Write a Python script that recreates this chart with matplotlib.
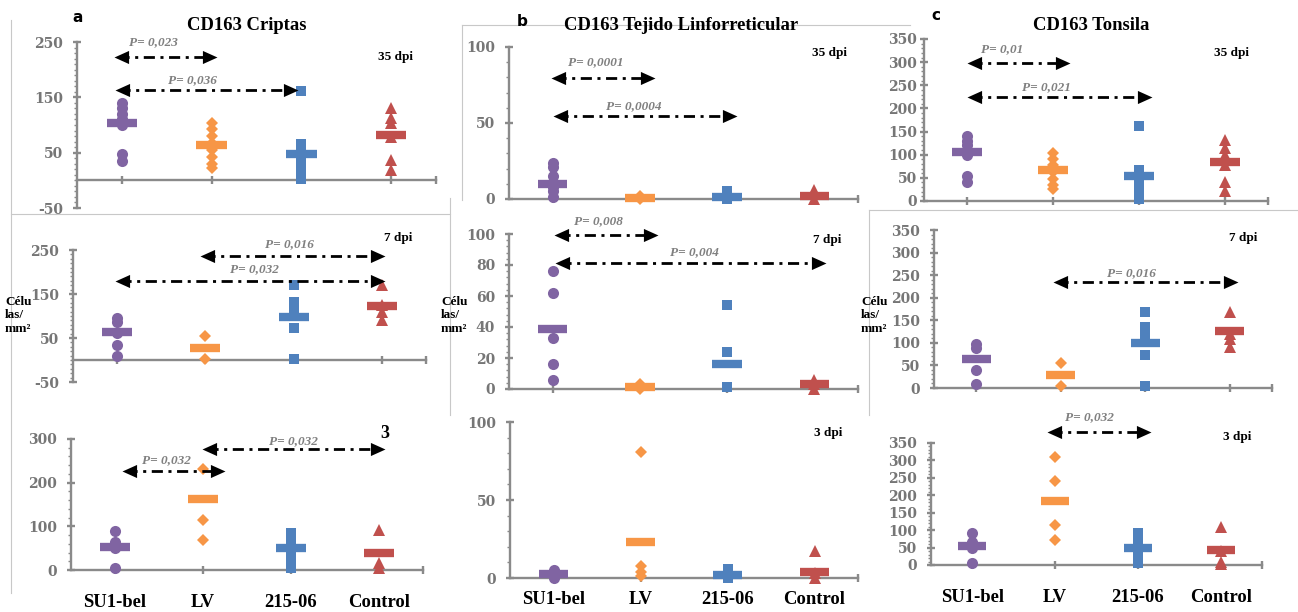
import matplotlib
matplotlib.use('Agg')
import matplotlib.pyplot as plt
from matplotlib.lines import Line2D
from matplotlib.ticker import MultipleLocator, FixedLocator

plt.rcParams['lines.scale_dashes'] = False

W, H = 1298, 612

# ---------------- data ----------------
groups = ['SU1-bel', 'LV', '215-06', 'Control']
group_colors = ['#8064A2', '#F79646', '#4F81BD', '#C0504D']
group_markers = ['o', 'D', 's', '^']
group_msize = [8, 6.5, 7, 8]

# a) CD163 Criptas
criptas_35 = [[140, 130, 120, 110, 100, 48, 35],
              [103, 92, 80, 68, 55, 42, 30, 22],
              [162, 65, 52, 40, 28, 15, 3],
              [130, 112, 103, 78, 37, 18]]
criptas_35_mean = [104, 64, 48, 82]
criptas_7 = [[96, 86, 62, 35, 8],
             [55, 2],
             [170, 132, 118, 72, 3],
             [170, 125, 108, 92]]
criptas_7_mean = [63, 27, 98, 123]
criptas_3 = [[90, 65, 50, 5],
             [232, 115, 68],
             [85, 68, 50, 33, 17, 4],
             [92, 15, 5]]
criptas_3_mean = [53, 163, 50, 40]

# b) CD163 Tejido Linforreticular
tejido_35 = [[24, 21, 15, 8, 5, 1],
             [2, 1, 0],
             [5, 2, 0],
             [6, 3, 0]]
tejido_35_mean = [10, 0.5, 1.5, 2]
tejido_7 = [[76, 62, 33, 16, 6],
            [3, 1, 0],
            [54, 24, 1],
            [6, 3, 0]]
tejido_7_mean = [39, 1.5, 16, 3.5]
tejido_3 = [[5, 3, 1, 0],
            [81, 8, 4, 1],
            [6, 3, 1, 0],
            [17, 3, 0]]
tejido_3_mean = [2.5, 23, 2, 4]

# c) CD163 Tonsila
tonsila_35 = [[140, 130, 120, 100, 55, 42],
              [103, 90, 78, 62, 48, 35, 25],
              [162, 68, 52, 36, 20, 5],
              [132, 115, 100, 78, 40, 22]]
tonsila_35_mean = [105, 67, 53, 84]
tonsila_7 = [[97, 88, 40, 8],
             [55, 5],
             [168, 135, 118, 72, 5],
             [168, 120, 108, 90]]
tonsila_7_mean = [64, 29, 100, 126]
tonsila_3 = [[92, 65, 50, 5],
             [310, 240, 115, 72],
             [92, 70, 48, 26, 5],
             [110, 40, 10, 2]]
tonsila_3_mean = [55, 185, 48, 42]

# comparisons: (x_start, x_end, y, label, label_x, label_y) in data units
criptas_35_p = [(0.91, 2.06, 223, 'P= 0,023', 1.35, 250),
                (0.92, 2.96, 163, 'P= 0,036', 1.79, 181)]
criptas_7_p = [(1.94, 4.04, 236, 'P= 0,016', 2.95, 264),
               (0.98, 4.04, 180, 'P= 0,032', 2.56, 207)]
criptas_3_p = [(1.08, 2.25, 227, 'P= 0,032', 1.58, 252),
               (1.99, 4.07, 277, 'P= 0,032', 3.03, 295)]
tejido_35_p = [(0.98, 2.17, 79.6, 'P= 0,0001', 1.49, 90),
               (1.00, 3.11, 54.6, 'P= 0,0004', 1.93, 61)]
tejido_7_p = [(1.02, 2.21, 99.4, 'P= 0,008', 1.53, 108),
              (1.03, 4.13, 81.3, 'P= 0,004', 2.62, 88.4)]
tejido_3_p = []
tonsila_35_p = [(1.00, 2.20, 298, 'P= 0,01', 1.41, 328),
                (1.00, 3.15, 225, 'P= 0,021', 1.92, 246)]
tonsila_7_p = [(1.91, 4.10, 235, 'P= 0,016', 2.84, 255)]
tonsila_3_p = [(1.90, 3.16, 382, 'P= 0,032', 2.42, 425)]

titles = ['CD163 Criptas', 'CD163 Tejido Linforreticular', 'CD163 Tonsila']
panel_letters = ['a', 'b', 'c']
ylabel_text = 'Célu\nlas/\nmm²'

# ---------------- layout ----------------
GREY = '#8a8a8a'
TICKGREY = '#767676'

panels = [
    dict(vals=criptas_35, means=criptas_35_mean, p=criptas_35_p, box=(77, 42, 436, 208),
         ylim=(-50, 250), yticks=[-50, 50, 150, 250], minor=10, ypad=7, dpi='35 dpi', dpi_xy=(395, 57), dpi_fs=9.5),
    dict(vals=criptas_7, means=criptas_7_mean, p=criptas_7_p, box=(73, 250, 426, 382),
         ylim=(-50, 250), yticks=[-50, 50, 150, 250], minor=10, ypad=7, dpi='7 dpi', dpi_xy=(398, 238), dpi_fs=9.5),
    dict(vals=criptas_3, means=criptas_3_mean, p=criptas_3_p, box=(71, 439, 423, 570),
         ylim=(0, 300), yticks=[0, 100, 200, 300], minor=20, ypad=7, dpi='3', dpi_xy=(385, 433), dpi_fs=13,
         xlab=True, xpad=14),
    dict(vals=tejido_35, means=tejido_35_mean, p=tejido_35_p, box=(509, 47, 858, 199),
         ylim=(0, 100), yticks=[0, 50, 100], minor=10, ypad=7, dpi='35 dpi', dpi_xy=(830, 53), dpi_fs=9.5),
    dict(vals=tejido_7, means=tejido_7_mean, p=tejido_7_p, box=(509, 234, 858, 389),
         ylim=(0, 100), yticks=[0, 20, 40, 60, 80, 100], minor=4, ypad=7, dpi='7 dpi', dpi_xy=(827, 240), dpi_fs=9.5),
    dict(vals=tejido_3, means=tejido_3_mean, p=tejido_3_p, box=(510, 422, 858, 578),
         ylim=(0, 100), yticks=[0, 50, 100], minor=10, ypad=7, dpi='3 dpi', dpi_xy=(828, 433), dpi_fs=9.5,
         xlab=True, xpad=6),
    dict(vals=tonsila_35, means=tonsila_35_mean, p=tonsila_35_p, box=(924, 39, 1268, 201),
         ylim=(0, 350), yticks=list(range(0, 351, 50)), minor=10, ypad=2, dpi='35 dpi', dpi_xy=(1232, 53), dpi_fs=9.5),
    dict(vals=tonsila_7, means=tonsila_7_mean, p=tonsila_7_p, box=(934, 230, 1272, 388),
         ylim=(0, 350), yticks=list(range(0, 351, 50)), minor=10, ypad=7, dpi='7 dpi', dpi_xy=(1243, 238), dpi_fs=9.5),
    dict(vals=tonsila_3, means=tonsila_3_mean, p=tonsila_3_p, box=(931, 443, 1262, 565),
         ylim=(0, 350), yticks=list(range(0, 351, 50)), minor=10, ypad=7, dpi='3 dpi', dpi_xy=(1237, 437), dpi_fs=9.5,
         xlab=True, xpad=14),
]

fig = plt.figure(figsize=(W / 100, H / 100), dpi=100)
fig.patch.set_facecolor('white')


def fx(x):
    return x / W


def fy(y):
    return 1 - y / H


left_head = [(0, 0), (1, 0.45), (1, -0.45), (0, 0)]
right_head = [(0, 0), (-1, 0.45), (-1, -0.45), (0, 0)]


def draw_arrow(ax, x1, x2, y, label, lx, ly):
    ax.plot([x1 + 0.05, x2 - 0.05], [y, y], color='black', lw=2, dashes=(8, 4, 2.2, 4),
            clip_on=False, zorder=5, dash_capstyle='butt')
    ax.plot([x1], [y], marker=left_head, ms=21, color='black', mew=0, clip_on=False, zorder=6, ls='none')
    ax.plot([x2], [y], marker=right_head, ms=21, color='black', mew=0, clip_on=False, zorder=6, ls='none')
    ax.text(lx, ly, label, ha='center', va='center', fontsize=9.5, fontstyle='italic',
            fontweight='bold', color='#808080', family='Liberation Serif', clip_on=False, zorder=7)


for P in panels:
    l, t, r, b = P['box']
    ax = fig.add_axes([fx(l), fy(b), (r - l) / W, (b - t) / H])
    ax.patch.set_alpha(0)
    ax.set_xlim(0.5, 4.5)
    ax.set_ylim(*P['ylim'])
    for s in ['top', 'right']:
        ax.spines[s].set_visible(False)
    for s in ['left', 'bottom']:
        ax.spines[s].set_color(GREY)
        ax.spines[s].set_linewidth(1.7)
    ax.spines['bottom'].set_position(('data', 0))

    ax.set_yticks(P['yticks'], labels=[str(v) for v in P['yticks']], fontsize=10,
                  fontweight='bold', family='DejaVu Serif', color=TICKGREY)
    ax.yaxis.set_minor_locator(MultipleLocator(P['minor']))
    ax.tick_params(axis='y', which='major', direction='inout', length=6, width=1.7,
                   color=GREY, pad=P['ypad'])
    ax.tick_params(axis='y', which='minor', direction='out', length=2.5, width=1.0, color=GREY)

    if P.get('xlab'):
        ax.set_xticks([1, 2, 3, 4], labels=groups, fontsize=13.4, fontweight='bold',
                      family='Liberation Serif', color='black')
        xpad = P['xpad']
    else:
        ax.set_xticks([1, 2, 3, 4], labels=['', '', '', ''])
        xpad = 4
    ax.xaxis.set_minor_locator(FixedLocator([4.5]))
    ax.tick_params(axis='x', which='both', direction='inout', length=6, width=1.7,
                   color=GREY, pad=xpad)

    for i, v in enumerate(P['vals']):
        ax.plot([i + 1] * len(v), v, ls='none', marker=group_markers[i], ms=group_msize[i],
                color=group_colors[i], mew=0, clip_on=False, zorder=3)
        ax.hlines(P['means'][i], i + 1 - 0.17, i + 1 + 0.17, color=group_colors[i], lw=6,
                  zorder=4, capstyle='butt', clip_on=False)

    for (x1, x2, y, lab, lx, ly) in P['p']:
        draw_arrow(ax, x1, x2, y, lab, lx, ly)

    dx, dy = P['dpi_xy']
    fig.text(fx(dx), fy(dy), P['dpi'], ha='center', va='center', fontsize=P['dpi_fs'],
             fontweight='bold', family='Liberation Serif', color='black')

# titles and panel letters
for title, cx in zip(titles, [247, 681, 1091]):
    fig.text(fx(cx), fy(25), title, ha='center', va='center', fontsize=13.4,
             fontweight='bold', family='Liberation Serif', color='black')
for letter, (lx, ly) in zip(panel_letters, [(78, 18), (522, 22), (936, 15)]):
    fig.text(fx(lx), fy(ly), letter, ha='center', va='center', fontsize=11,
             fontweight='bold', family='DejaVu Sans', color='black')

# y-axis unit labels
for lx in [5, 441, 861]:
    fig.text(fx(lx), fy(296), ylabel_text, ha='left', va='top', fontsize=9.5,
             fontweight='bold', family='Liberation Serif', color='black', linespacing=1.15)

# light grey chart-area borders
borders = [((11, 20), (11, 593)), ((11, 214), (450, 214)), ((450, 198), (450, 415)),
           ((462, 25), (910, 25)), ((462, 25), (462, 200)), ((869, 210), (1298, 210)),
           ((869, 210), (869, 415))]
for (x1, y1), (x2, y2) in borders:
    fig.add_artist(Line2D([fx(x1), fx(x2)], [fy(y1), fy(y2)], transform=fig.transFigure,
                          color='#c8c8c8', lw=0.8))

fig.savefig('out.png', dpi=100, facecolor='white')
